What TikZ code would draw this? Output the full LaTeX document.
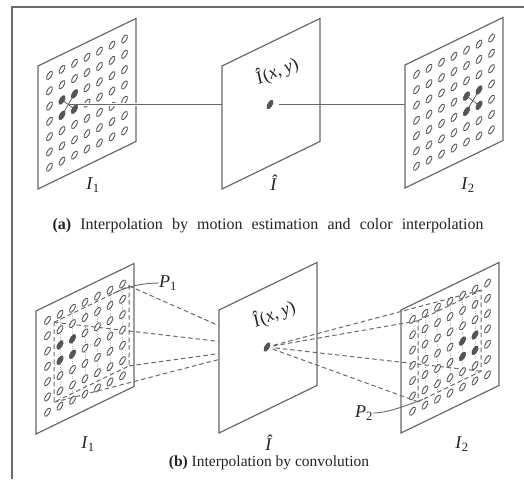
\documentclass[tikz,border=0pt]{standalone}
\usepackage{fontspec}
\setmainfont{Liberation Serif}
\usetikzlibrary{positioning,calc}
\definecolor{edgegray}{RGB}{105,105,105}
\definecolor{dotgray}{RGB}{85,85,85}
\definecolor{inkgray}{RGB}{35,35,35}
\newcommand{\pixgrid}{%
  \foreach \c in {0,...,6}
    \foreach \r in {0,...,6}
      \path[pix, shift={({11.5+12.5*\c},{15+15.3*\r})}, xslant=0.3] (0,0) ellipse [x radius=2.8, y radius=3.4];}

\begin{document}
\begin{tikzpicture}[
    x=1pt, y=-1pt,
    panel/.style={draw=edgegray, line width=1.2pt, fill=white},
    pix/.style={draw=dotgray, line width=0.9pt, fill=white},
    pixdark/.style={draw=dotgray, line width=0.9pt, fill=dotgray},
    link/.style={draw=edgegray, line width=1.2pt},
    ray/.style={draw=edgegray, line width=1pt, dash pattern=on 4.5pt off 3pt},
    mesh/.style={draw=black!30, line width=0.5pt, dotted},
    lbl/.style={text=inkgray, font=\fontsize{18}{18}\selectfont, inner sep=0pt},
    capt/.style={text=inkgray, font=\fontsize{15.5}{16}\selectfont, inner sep=0pt}
]
    \useasboundingbox (0,0) rectangle (524,479);

    % Frame
    \draw[edgegray, line width=1.3pt] (524,7) -- (12,7) -- (12,479);

    % Anchor points
    \coordinate (ma) at (68.3,104.5);
    \coordinate (na) at (472.8,100.7);
    \coordinate (pa) at (270,104.5);
    \coordinate (pb) at (267,347);

    % (a) first frame
    \begin{scope}[shift={(38,66)}, yslant=0.485]
        \draw[panel] (0,0) -- (98,0) -- (98,123) -- (0,123) -- cycle;
        \pixgrid
        \foreach \c/\r in {1/2,2/2,1/3,2/3}
            \draw[dotgray, line width=0.7pt] (ma) -- ({11.5+12.5*\c},{15+15.3*\r});
        \foreach \c/\r in {1/2,2/2,1/3,2/3}
            \path[pixdark, shift={({11.5+12.5*\c},{15+15.3*\r})}, xslant=0.3] (0,0) ellipse [x radius=2.8, y radius=3.5];
    \end{scope}
    \draw[white, line width=3.5pt, shorten <=10pt] (ma) -- (ma -| pa);
    \draw[link] (ma) -- (ma -| pa);

    % (a) interpolated frame
    \begin{scope}[shift={(222,66)}, yslant=0.485]
        \draw[panel] (0,0) -- (98,0) -- (98,123) -- (0,123) -- cycle;
        \path[pixdark, shift={(pa)}, xslant=0.3] (0,0) ellipse [x radius=2.8, y radius=3.5];
    \end{scope}
    \node[lbl, rotate=23] (ha) at (277,71) {\textit{\^I}(\textit{x}, \textit{y})};
    \draw[link, shorten <=9pt] (pa) -- (pa -| na);

    % (a) second frame
    \begin{scope}[shift={(405,65)}, yslant=0.485]
        \draw[panel] (0,0) -- (98,0) -- (98,123) -- (0,123) -- cycle;
        \pixgrid
        \foreach \c/\r in {4/3,5/3,4/4,5/4}
            \draw[dotgray, line width=0.7pt] (na) -- ({11.5+12.5*\c},{15+15.3*\r});
        \foreach \c/\r in {4/3,5/3,4/4,5/4}
            \path[pixdark, shift={({11.5+12.5*\c},{15+15.3*\r})}, xslant=0.3] (0,0) ellipse [x radius=2.8, y radius=3.5];
    \end{scope}

    % (a) labels
    \node[lbl] (l1a) at (93,185) {\textit{I}\textsubscript{1}};
    \node[lbl] (l0a) at (274,183) {\textit{\^I}};
    \node[lbl] (l2a) at (468,185) {\textit{I}\textsubscript{2}};
    \node[capt, font=\fontsize{16}{16}\selectfont] (capa) at (268,226) {\makebox[431pt][s]{\textbf{(a)} Interpolation by motion estimation and color interpolation}};

    % (b) first frame with patch P1
    \begin{scope}[shift={(36,311)}, yslant=0.485]
        \draw[panel] (0,0) -- (98,0) -- (98,123) -- (0,123) -- cycle;
        \foreach \r in {1,...,5}
            \draw[mesh] (18,{15+15.3*\r}) -- (93,{15+15.3*\r});
        \foreach \c in {1,...,6}
            \draw[mesh] ({11.5+12.5*\c},20) -- ({11.5+12.5*\c},100);
        \coordinate (u1) at (18,20);
        \coordinate (u2) at (93,20);
        \coordinate (u3) at (93,100);
        \coordinate (u4) at (18,100);
        \coordinate (p1end) at (77,20);
        \draw[ray] (u1) -- (u2) -- (u3) -- (u4) -- cycle;
        \foreach \q in {u1,u2,u3,u4}
            \draw[ray] (\q) -- (pb);
        \pixgrid
        \foreach \c/\r in {1/2,2/2,1/3,2/3}
            \path[pixdark, shift={({11.5+12.5*\c},{15+15.3*\r})}, xslant=0.3] (0,0) ellipse [x radius=2.8, y radius=3.5];
    \end{scope}

    % (b) interpolated frame
    \begin{scope}[shift={(219,310)}, yslant=0.485]
        \draw[panel] (0,0) -- (98,0) -- (98,123) -- (0,123) -- cycle;
        \path[pixdark, shift={(pb)}, xslant=0.3] (0,0) ellipse [x radius=2.8, y radius=3.5];
    \end{scope}
    \node[lbl, rotate=23] (hb) at (274,314) {\textit{\^I}(\textit{x}, \textit{y})};

    % (b) second frame with patch P2
    \begin{scope}[shift={(401,310)}, yslant=0.485]
        \draw[panel] (0,0) -- (98,0) -- (98,123) -- (0,123) -- cycle;
        \foreach \r in {1,...,5}
            \draw[mesh] (17,{15+15.3*\r}) -- (80,{15+15.3*\r});
        \foreach \c in {1,...,5}
            \draw[mesh] ({11.5+12.5*\c},19) -- ({11.5+12.5*\c},100);
        \coordinate (w1) at (17,19);
        \coordinate (w2) at (80,19);
        \coordinate (w3) at (80,100);
        \coordinate (w4) at (17,100);
        \coordinate (p2end) at (22,100);
        \draw[ray] (w1) -- (w2) -- (w3) -- (w4) -- cycle;
        \foreach \q in {w1,w2,w3,w4}
            \draw[ray, shorten >=5pt] (\q) -- (pb);
        \pixgrid
        \foreach \c/\r in {4/3,5/3,4/4,5/4}
            \path[pixdark, shift={({11.5+12.5*\c},{15+15.3*\r})}, xslant=0.3] (0,0) ellipse [x radius=2.8, y radius=3.5];
    \end{scope}

    % (b) labels
    \node[lbl] (lp1) at (168,283) {\textit{P}\textsubscript{1}};
    \node[lbl] (lp2) at (364,413) {\textit{P}\textsubscript{2}};
    \draw[link, line width=0.9pt] (lp1.west) .. controls +(-14,0) and +(16,-8) .. (p1end);
    \draw[link, line width=0.9pt] (lp2.east) .. controls +(14,0) and +(-16,6) .. (p2end);
    \node[lbl] (l1b) at (88,444) {\textit{I}\textsubscript{1}};
    \node[lbl] (l0b) at (269,443) {\textit{\^I}};
    \node[lbl] (l2b) at (462,444) {\textit{I}\textsubscript{2}};
    \node[capt] (capb) at (269,463) {\textbf{(b)} Interpolation by convolution};
\end{tikzpicture}
\end{document}
